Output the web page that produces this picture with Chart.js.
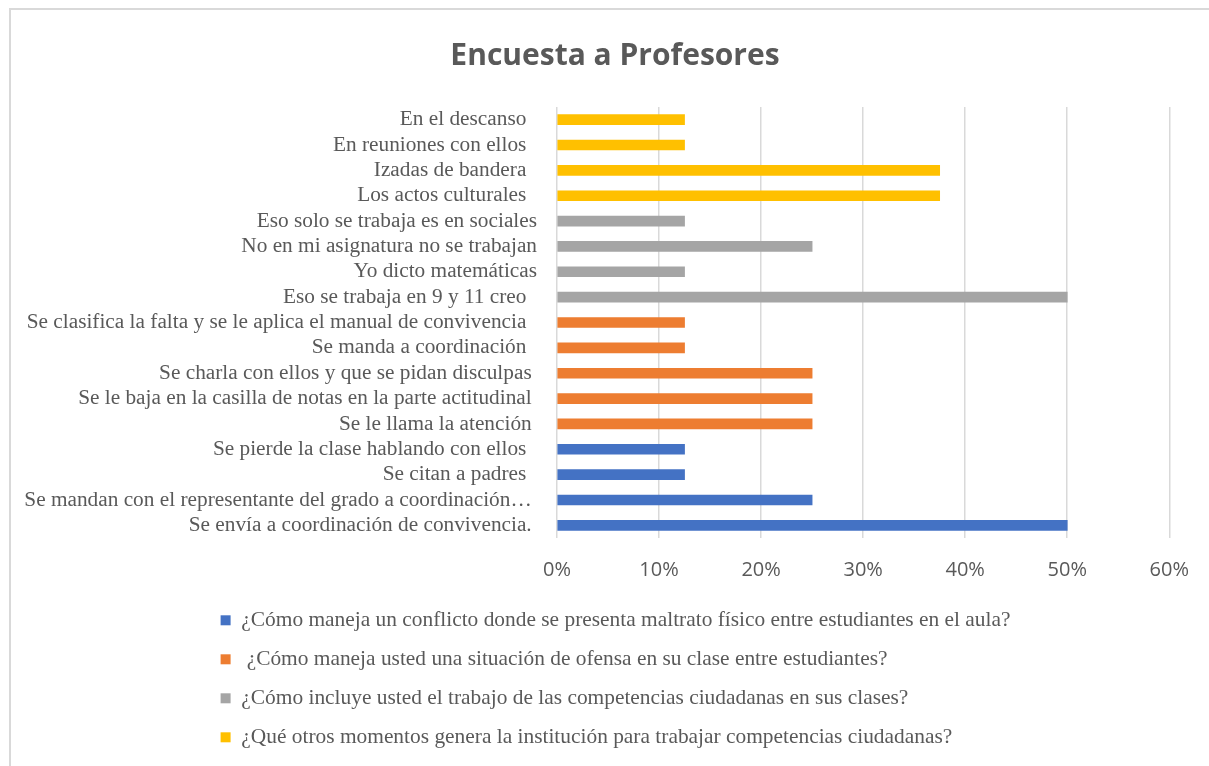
<!DOCTYPE html>
<html>
<head>
<meta charset="utf-8">
<script src="https://cdn.jsdelivr.net/npm/chart.js@4"></script>
<style>
  html, body { margin: 0; padding: 0; background: #ffffff; overflow: hidden; }
  #frame { position: absolute; left: 9px; top: 8px; width: 1400px; height: 1000px; border: 2px solid #d9d9d9; box-sizing: border-box; }
  #c { position: absolute; left: 0; top: 0; }
</style>
</head>
<body>
<div id="frame"></div>
<canvas id="c" width="1209" height="766"></canvas>
<script>
// ---- data (top to bottom as in the picture) ----
const categories = [
  "En el descanso  ",
  "En reuniones con ellos  ",
  "Izadas de bandera  ",
  "Los actos culturales  ",
  "Eso solo se trabaja es en sociales",
  "No en mi asignatura no se trabajan",
  "Yo dicto matemáticas",
  "Eso se trabaja en 9 y 11 creo  ",
  "Se clasifica la falta y se le aplica el manual de convivencia  ",
  "Se manda a coordinación  ",
  "Se charla con ellos y que se pidan disculpas ",
  "Se le baja en la casilla de notas en la parte actitudinal ",
  "Se le llama la atención ",
  "Se pierde la clase hablando con ellos  ",
  "Se citan a padres  ",
  "Se mandan con el representante del grado a coordinación… ",
  "Se envía a coordinación de convivencia. "
];
const seriesNames = [
  "¿Cómo maneja un conflicto donde se presenta maltrato físico entre estudiantes en el aula?",
  " ¿Cómo maneja usted una situación de ofensa en su clase entre estudiantes?",
  "¿Cómo incluye usted el trabajo de las competencias ciudadanas en sus clases?",
  "¿Qué otros momentos genera la institución para trabajar competencias ciudadanas?"
];
const maltratoFisico = [null, null, null, null, null, null, null, null, null, null, null, null, null, 0.125, 0.125, 0.25, 0.5];
const ofensaClase    = [null, null, null, null, null, null, null, null, 0.125, 0.125, 0.25, 0.25, 0.25, null, null, null, null];
const competenciasClases = [null, null, null, null, 0.125, 0.25, 0.125, 0.5, null, null, null, null, null, null, null, null, null];
const otrosMomentos  = [0.125, 0.125, 0.375, 0.375, null, null, null, null, null, null, null, null, null, null, null, null, null];
const xTickMax = 0.6;
const xTickStep = 0.1;
const chartTitle = "Encuesta a Profesores";

// ---- styles ----
const colors = ["#4472C4", "#ED7D31", "#A5A5A5", "#FFC000"];
const textColor = "#595959";
const seriesData = [maltratoFisico, ofensaClase, competenciasClases, otrosMomentos];

const blockShift = {
  id: 'blockShift',
  afterLayout(chart) {
    if (chart.legend) { chart.legend.left = 203; }
    if (chart.titleBlock) { chart.titleBlock.left = 58; chart.titleBlock.right = 1172; }
  }
};

new Chart(document.getElementById('c'), {
  type: 'bar',
  data: {
    labels: categories,
    datasets: seriesData.map((d, i) => ({
      label: seriesNames[i],
      data: d,
      backgroundColor: colors[i],
      borderWidth: 0,
      barThickness: 10,
      grouped: false
    }))
  },
  options: {
    indexAxis: 'y',
    responsive: false,
    animation: false,
    devicePixelRatio: 1,
    layout: { padding: { top: 0, right: 37, bottom: 8, left: 10 } },
    plugins: {
      tooltip: { enabled: false },
      title: {
        display: true,
        text: chartTitle,
        color: textColor,
        font: { family: "'Open Sans', sans-serif", size: 30, weight: 'bold', lineHeight: 1.2 },
        padding: { top: 38, bottom: 33 }
      },
      legend: {
        display: true,
        position: 'bottom',
        align: 'start',
        labels: {
          color: textColor,
          font: { family: "'Liberation Serif', serif", size: 21.4, lineHeight: 1.2 },
          boxWidth: 10,
          boxHeight: 10,
          padding: 17.6
        }
      }
    },
    scales: {
      x: {
        min: 0,
        max: xTickMax,
        ticks: {
          stepSize: xTickStep,
          color: textColor,
          padding: 20,
          font: { family: "'Open Sans', sans-serif", size: 20, lineHeight: 1.2 },
          callback: v => Math.round(v * 100) + '%'
        },
        grid: { color: '#d9d9d9', lineWidth: 1.5, drawTicks: false },
        border: { display: false },
        afterFit(scale) { scale.height = 54; }
      },
      y: {
        ticks: {
          color: textColor,
          padding: 20,
          autoSkip: false,
          font: { family: "'Liberation Serif', serif", size: 21.3, lineHeight: 1.2 }
        },
        grid: { display: false, drawTicks: false },
        border: { display: false },
        afterFit(scale) { scale.width = 547; }
      }
    }
  },
  plugins: [blockShift]
});
</script>
</body>
</html>
